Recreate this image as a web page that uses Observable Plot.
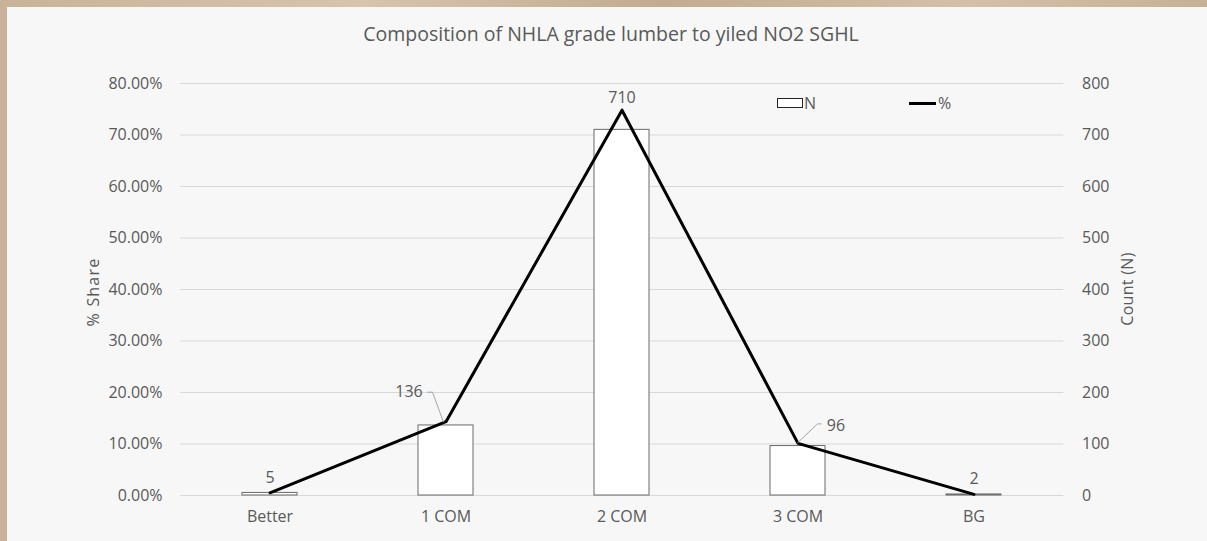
<!DOCTYPE html>
<html>
<head>
<meta charset="utf-8">
<script src="https://cdn.jsdelivr.net/npm/d3@7"></script>
<script src="https://cdn.jsdelivr.net/npm/@observablehq/plot@0.6"></script>
<style>
  html, body { margin: 0; padding: 0; }
  body {
    width: 1207px; height: 541px; overflow: hidden; position: relative;
    background: linear-gradient(90deg, #c9b398 0%, #d6c4ab 30%, #c2ab90 55%, #d3c0a6 80%, #c7b196 100%);
    font-family: "Open Sans", sans-serif;
  }
  #panel { position: absolute; left: 7px; top: 7px; width: 1200px; height: 534px; background: #f7f7f7; }
  #title { position: absolute; left: 0; top: 14px; width: 1208px; text-align: center; font-size: 19.5px; line-height: 26px; color: #595959; }
  .ytitle { position: absolute; font-size: 16px; color: #595959; white-space: nowrap; transform-origin: center center; }
  #ytl { left: 86px; top: 285px; transform: translate(-50%, -50%) rotate(-90deg); letter-spacing: 1.2px; }
  #ytr { left: 1120px; top: 282px; transform: translate(-50%, -50%) rotate(-90deg); letter-spacing: 0.3px; }
  .leg { position: absolute; font-size: 16px; color: #595959; line-height: 20px; }
  #legBox { position: absolute; left: 770px; top: 91px; width: 24px; height: 8px; border: 1px solid #222; background: #fff; }
  #legN { left: 797px; top: 86px; }
  #legLine { position: absolute; left: 902px; top: 95px; width: 27px; height: 3px; background: #000; }
  #legP { left: 931px; top: 86px; }
  svg { position: absolute; left: 0; top: 0; }
</style>
</head>
<body>
<div id="panel">
  <div id="title">Composition of NHLA grade lumber to yiled NO2 SGHL</div>
  <div class="ytitle" id="ytl">% Share</div>
  <div class="ytitle" id="ytr">Count (N)</div>
  <div id="legBox"></div><div class="leg" id="legN">N</div>
  <div id="legLine"></div><div class="leg" id="legP">%</div>
</div>
<script>
// ---- data ----
const grades = ["Better", "1 COM", "2 COM", "3 COM", "BG"];
const counts = [5, 136, 710, 96, 2];
const shares = [0.53, 14.33, 74.82, 10.12, 0.21]; // percent
const countTicks = [0, 100, 200, 300, 400, 500, 600, 700, 800];
const countTickLabels = ["0", "100", "200", "300", "400", "500", "600", "700", "800"];
const shareTickLabels = ["0.00%", "10.00%", "20.00%", "30.00%", "40.00%", "50.00%", "60.00%", "70.00%", "80.00%"];

const rows = grades.map((g, i) => ({grade: g, n: counts[i], pct: shares[i]}));
// the % line shares the count scale: 80% <-> 800
const yPct = d => d.pct * 10;

const textColor = "#595959";
const labelOpts = (g, dx, dy) => Plot.text(rows, {
  filter: d => d.grade === g, x: "grade", y: yPct, text: d => String(d.n),
  dx, dy, fill: textColor, fontSize: 16
});

const chart = Plot.plot({
  width: 1200,
  height: 534,
  marginLeft: 173,
  marginRight: 143.5,
  marginTop: 76,
  marginBottom: 46,
  style: {fontFamily: "Open Sans", fontSize: "16px", color: textColor, background: "transparent", overflow: "visible"},
  x: {type: "band", domain: grades, paddingInner: 0.69, paddingOuter: 0.345, label: null},
  y: {domain: [0, 800], label: null},
  marks: [
    Plot.gridY(countTicks, {stroke: "#d9d9d9", strokeOpacity: 1, strokeWidth: 1}),
    Plot.axisY(countTicks, {anchor: "left", tickSize: 0, tickPadding: 18, label: null,
      tickFormat: d => shareTickLabels[countTicks.indexOf(d)], fill: textColor}),
    Plot.axisY(countTicks, {anchor: "right", tickSize: 0, tickPadding: 18, label: null,
      tickFormat: d => countTickLabels[countTicks.indexOf(d)], fill: textColor}),
    Plot.axisX({tickSize: 0, tickPadding: 15, label: null, fill: textColor}),
    Plot.barY(rows, {x: "grade", y: "n", fill: "white", stroke: "#6a6a6a", strokeWidth: 1}),
    Plot.line(rows, {x: "grade", y: yPct, stroke: "black", strokeWidth: 3, strokeLinejoin: "round"}),
    labelOpts("Better", 0, -15),
    labelOpts("1 COM", -37, -30),
    labelOpts("2 COM", 0, -12),
    labelOpts("3 COM", 38, -18),
    labelOpts("BG", 0, -16)
  ]
});
document.getElementById("panel").appendChild(chart);

// leader lines for the offset labels, placed through the plot's own scales
const xs = chart.scale("x"), ys = chart.scale("y");
const pt = d => [xs.apply(d.grade) + xs.bandwidth / 2, ys.apply(yPct(d))];
const leaderPaths = [
  {grade: "1 COM", pts: [[-2, 1], [-13, -29], [-18, -29]]},
  {grade: "3 COM", pts: [[0, 0], [20, -19], [24, -19]]}
];
const svg = d3.select(chart);
for (const l of leaderPaths) {
  const d = rows.find(r => r.grade === l.grade);
  const [cx, cy] = pt(d);
  svg.append("path")
    .attr("d", d3.line()(l.pts.map(([dx, dy]) => [cx + dx, cy + dy])))
    .attr("fill", "none").attr("stroke", "#a6a6a6").attr("stroke-width", 1);
}
</script>
</body>
</html>
